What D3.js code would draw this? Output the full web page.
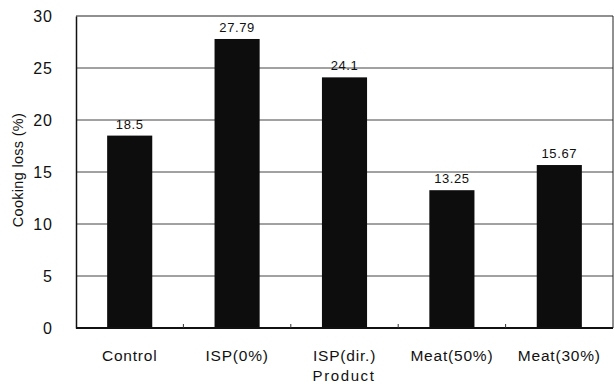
<!DOCTYPE html>
<html><head><meta charset="utf-8">
<script src="https://cdn.jsdelivr.net/npm/d3@7"></script>
<style>body{margin:0;background:#fff}svg{display:block}text{font-family:"Liberation Sans",Arial,sans-serif;fill:#111}</style>
</head><body><svg id="c" width="614" height="390"></svg>
<script>
const categories = ["Control","ISP(0%)","ISP(dir.)","Meat(50%)","Meat(30%)"];
const values = [18.5, 27.79, 24.1, 13.25, 15.67];
const valueLabels = ["18.5","27.79","24.1","13.25","15.67"];
const yTicks = [0,5,10,15,20,25,30];

const svg = d3.select("#c");
const m = {l:76, r:613, t:16, b:328};
const x = d3.scaleBand().domain(categories).range([m.l, m.r]).paddingInner(0.58).paddingOuter(0.29);
const xb = d3.scaleBand().domain(categories).range([m.l, m.r]);
const y = d3.scaleLinear().domain([0,30]).range([m.b, m.t]);

// gridlines
svg.append("g").selectAll("line").data(yTicks.filter(d=>d>0)).join("line")
  .attr("x1", m.l).attr("x2", m.r).attr("y1", d=>y(d)).attr("y2", d=>y(d))
  .attr("stroke", d=> d===30 ? "#222" : "#444").attr("stroke-width", d=>d===30?1.2:1);
// right border
svg.append("line").attr("x1", m.r).attr("x2", m.r).attr("y1", m.t).attr("y2", m.b).attr("stroke","#222");

// bars
svg.append("g").selectAll("rect").data(values).join("rect")
  .attr("x", (d,i)=>x(categories[i])).attr("width", x.bandwidth())
  .attr("y", d=>y(d)).attr("height", d=>y(0)-y(d)).attr("fill","#0d0d0d");

// value labels
svg.append("g").selectAll("text").data(values).join("text")
  .attr("x",(d,i)=>x(categories[i])+x.bandwidth()/2).attr("y", d=>y(d)-7)
  .attr("text-anchor","middle").attr("font-size",13).attr("letter-spacing","0.6px").text((d,i)=>valueLabels[i]);

// y axis
const ya = svg.append("g").attr("transform",`translate(${m.l},0)`)
  .call(d3.axisLeft(y).tickValues(yTicks).tickSize(0).tickPadding(23));
ya.select(".domain").attr("stroke","#111").attr("stroke-width",1.5);
ya.selectAll("text").attr("font-size",16).attr("letter-spacing","1px").attr("font-family","Liberation Sans, Arial, sans-serif").attr("fill","#111");

// x axis
const xa = svg.append("g").attr("transform",`translate(0,${m.b})`)
  .call(d3.axisBottom(xb).tickSize(0).tickPadding(22));
xa.select(".domain").remove();
xa.selectAll("text").attr("font-size",15.5).attr("letter-spacing","0.8px").attr("font-family","Liberation Sans, Arial, sans-serif").attr("fill","#111");
svg.append("line").attr("x1",m.l).attr("x2",m.r).attr("y1",m.b).attr("y2",m.b).attr("stroke","#111").attr("stroke-width",2);
// small tick marks at band boundaries
svg.append("g").selectAll("line").data(categories.slice(1)).join("line")
  .attr("x1",d=>xb(d)).attr("x2",d=>xb(d)).attr("y1",m.b).attr("y2",m.b-4).attr("stroke","#333");

// axis titles
svg.append("text").attr("x",344).attr("y",381).attr("text-anchor","middle")
  .attr("font-size",15).attr("letter-spacing","1.6px").text("Product");
svg.append("text").attr("transform","translate(23,170) rotate(-90)").attr("text-anchor","middle")
  .attr("font-size",14.5).attr("letter-spacing","0.3px").text("Cooking loss (%)");
</script></body></html>
